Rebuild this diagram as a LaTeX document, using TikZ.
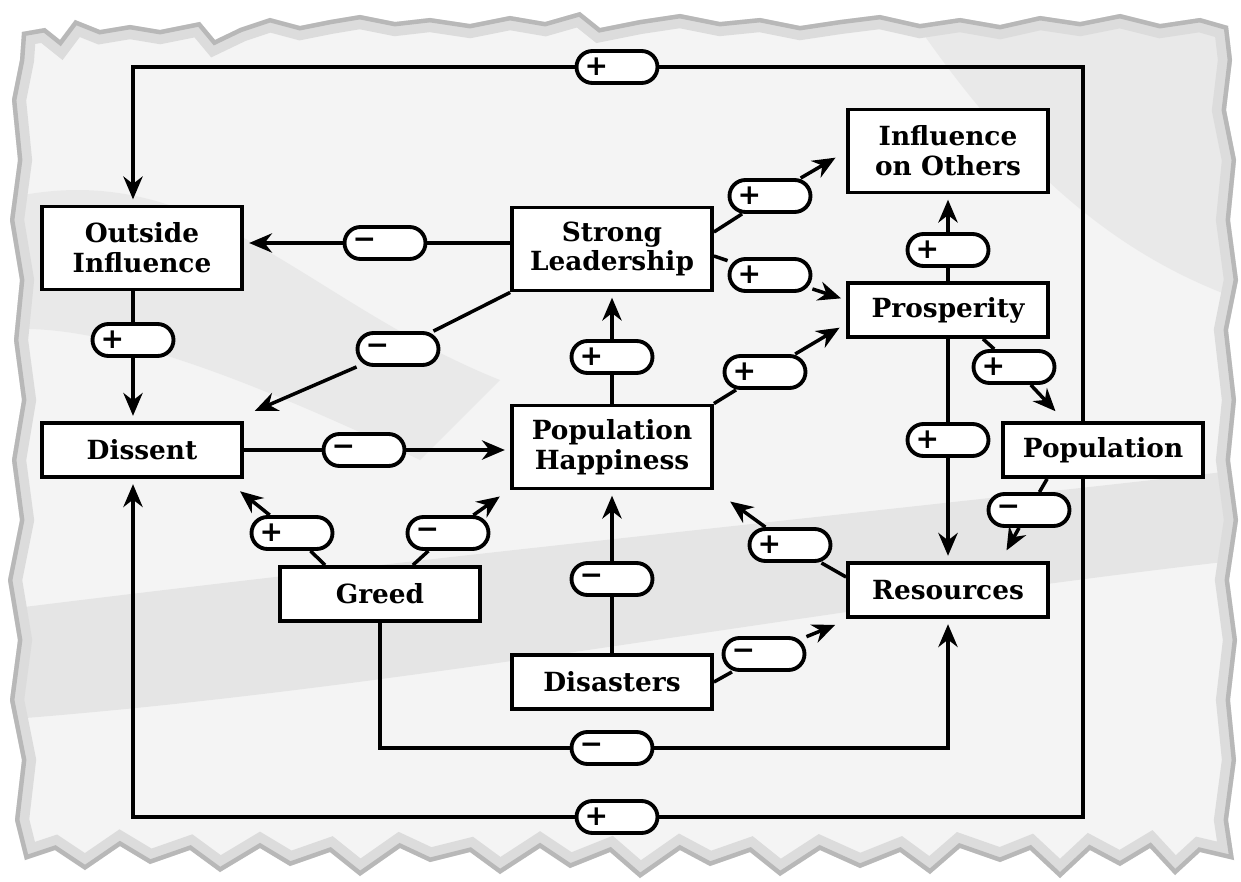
\documentclass[tikz,border=0pt]{standalone}
\usepackage{fontspec}
\setmainfont{DejaVu Serif}
\newfontfamily\signfont{DejaVu Sans}
\usetikzlibrary{arrows.meta, calc}
\definecolor{paper}{gray}{0.955}
\definecolor{paperedge}{gray}{0.72}
\definecolor{crease}{gray}{0.88}
\tikzstyle{factor} = [rectangle, minimum width=4cm, minimum height=1.08cm, align=center, draw=black, line width=2.2pt, fill=white, font=\fontsize{15}{17}\selectfont\bfseries]
\tikzstyle{tall} = [minimum height=1.66cm]
\tikzstyle{polarity} = [rectangle, rounded corners=0.32cm, minimum height=0.64cm, text width=1.3cm, inner xsep=0.16cm, inner ysep=0pt, align=left, draw=black, line width=2.2pt, fill=white, font=\signfont\fontsize{16}{16}\selectfont\bfseries]
\tikzstyle{link} = [line width=2pt, black]
\tikzstyle{arrow} = [link, -{Stealth[length=13pt,width=11pt]}, shorten >=3pt]

\begin{document}
\begin{tikzpicture}[x=0.02cm, y=-0.02cm]
    \useasboundingbox (0,0) rectangle (1241,882);
    \fill[white] (0,0) rectangle (1241,882);

    \path[fill=paper, save path=\paperpath] (22,32) -- (45,28) -- (60,40) -- (75,20) -- (100,30) -- (130,25) -- (160,30) -- (200,22) -- (215,40) -- (240,28) -- (270,18) -- (300,26) -- (330,20) -- (360,15) -- (395,22) -- (430,18) -- (470,24) -- (510,16) -- (545,22) -- (580,12) -- (600,28) -- (640,20) -- (680,14) -- (720,22) -- (760,18) -- (800,26) -- (840,20) -- (880,15) -- (920,24) -- (960,18) -- (1000,25) -- (1040,16) -- (1080,22) -- (1120,14) -- (1160,24) -- (1200,18) -- (1228,26)
        -- (1232,60) -- (1226,110) -- (1236,160) -- (1230,220) -- (1238,280) -- (1228,330) -- (1236,400) -- (1230,460) -- (1238,520) -- (1229,580) -- (1237,640) -- (1230,700) -- (1236,760) -- (1228,820) -- (1234,860)
        -- (1200,852) -- (1175,875) -- (1150,848) -- (1120,866) -- (1090,850) -- (1060,878) -- (1030,850) -- (1000,862) -- (960,848) -- (930,874) -- (900,852) -- (860,868) -- (820,850) -- (780,876) -- (750,852) -- (710,866) -- (680,850) -- (640,878) -- (610,852) -- (570,868) -- (540,848) -- (500,874) -- (470,852) -- (430,862) -- (400,848) -- (360,876) -- (330,852) -- (290,866) -- (260,848) -- (220,872) -- (190,850) -- (150,864) -- (120,846) -- (85,870) -- (55,850) -- (25,860)
        -- (15,820) -- (22,760) -- (10,700) -- (18,640) -- (8,580) -- (20,520) -- (12,460) -- (22,400) -- (14,340) -- (20,280) -- (10,220) -- (18,160) -- (12,100) -- (20,60) -- cycle;
    \begin{scope}
        \clip[use path=\paperpath];
        \fill[crease, opacity=.7] (0,610) .. controls (400,560) and (800,520) .. (1241,470) -- (1241,560) .. controls (800,610) and (400,690) .. (0,720) -- cycle;
        \fill[crease, opacity=.5] (0,200) .. controls (200,150) and (300,300) .. (500,380) -- (420,460) .. controls (250,380) and (100,320) .. (0,330) -- cycle;
        \fill[crease, opacity=.5] (900,0) -- (1241,0) -- (1241,300) .. controls (1100,250) and (1000,150) .. (900,0) -- cycle;
        \draw[use path=\paperpath, paperedge!40!paper, line width=16pt];
        \draw[use path=\paperpath, paperedge, line width=5pt];
    \end{scope}

    \node (oi) [factor, tall] at (142,248) {Outside\\Influence};
    \node (sl) [factor, tall] at (612,249) {Strong\\Leadership};
    \node (ioo) [factor, tall] at (948,151) {Influence\\on Others};
    \node (pros) [factor] at (948,310) {Prosperity};
    \node (pop) [factor] at (1103,450) {Population};
    \node (dis) [factor] at (142,450) {Dissent};
    \node (ph) [factor, tall] at (612,447) {Population\\Happiness};
    \node (greed) [factor] at (380,594) {Greed};
    \node (dst) [factor] at (612,682) {Disasters};
    \node (res) [factor] at (948,590) {Resources};

    \node (plTop) [polarity] at (617,67) {+};
    \node (plBottom) [polarity] at (617,817) {+};
    \node (plGreedRes) [polarity] at (612,748) {−};
    \node (plSlOi) [polarity] at (385,243) {−};
    \node (plOiDis) [polarity] at (133,340) {+};
    \node (plDisPh) [polarity] at (364,450) {−};
    \node (plPhSl) [polarity] at (612,357) {+};
    \node (plProsIoo) [polarity] at (948,250) {+};
    \node (plProsRes) [polarity] at (948,440) {+};
    \node (plDstPh) [polarity] at (612,579) {−};
    \node (plSlIoo) [polarity] at (770,196) {+};
    \node (plSlPros) [polarity] at (770,275) {+};
    \node (plPhPros) [polarity] at (765,372) {+};
    \node (plProsPop) [polarity] at (1014,367) {+};
    \node (plPopRes) [polarity] at (1029,510) {−};
    \node (plResPh) [polarity] at (790,545) {+};
    \node (plGreedDis) [polarity] at (292,533) {+};
    \node (plGreedPh) [polarity] at (448,533) {−};
    \node (plDstRes) [polarity] at (764,654) {−};
    \node (plSlDis) [polarity] at (398,349) {−};

    \coordinate (tl) at (133,67);
    \coordinate (tr) at (1083,67);
    \coordinate (bl) at (133,817);
    \coordinate (br) at (1083,817);
    \coordinate (gl) at (380,748);
    \coordinate (gr) at (948,748);

    \draw [link] (pop.north -| tr) -- (tr) -- (plTop);
    \draw [arrow] (plTop) -- (tl) -- (tl |- oi.north);
    \draw [link] (pop.south -| br) -- (br) -- (plBottom);
    \draw [arrow] (plBottom) -- (bl) -- (bl |- dis.south);
    \draw [link] (greed.south) -- (gl) -- (plGreedRes);
    \draw [arrow] (plGreedRes) -- (gr) -- (res.south);

    \draw [link] ($(sl.west)+(0,-6)$) -- (plSlOi);
    \draw [arrow] (plSlOi) -- (plSlOi -| oi.east);
    \draw [link] (oi.south -| plOiDis) -- (plOiDis);
    \draw [arrow] (plOiDis) -- (plOiDis |- dis.north);
    \draw [link] (dis.east) -- (plDisPh);
    \draw [arrow] (plDisPh) -- (plDisPh -| ph.west);
    \draw [link] (ph.north) -- (plPhSl);
    \draw [arrow] (plPhSl) -- (sl.south);
    \draw [link] (pros.north) -- (plProsIoo);
    \draw [arrow] (plProsIoo) -- (ioo.south);
    \draw [link] (pros.south) -- (plProsRes);
    \draw [arrow] (plProsRes) -- (res.north);
    \draw [link] (dst.north) -- (plDstPh);
    \draw [arrow] (plDstPh) -- (ph.south);

    \draw [link] ($(sl.east)+(0,-17)$) -- (plSlIoo);
    \draw [arrow] (plSlIoo) -- ($(ioo.west)+(-6,4)$);
    \draw [link] ($(sl.east)+(0,7)$) -- (plSlPros);
    \draw [arrow] (plSlPros) -- ($(pros.west)+(0,-10)$);
    \draw [link] (ph.north east) -- (plPhPros);
    \draw [arrow] (plPhPros) -- ($(pros.west)+(-2,15)$);
    \draw [link] ($(pros.south)+(35,0)$) -- (plProsPop);
    \draw [arrow] (plProsPop) -- ($(pop.north west)+(58,-6)$);
    \draw [link] ($(pop.south west)+(46,0)$) -- (plPopRes);
    \draw [arrow] (plPopRes) -- ($(res.north east)+(-46,-6)$);
    \draw [link] ($(res.west)+(0,-13)$) -- (plResPh);
    \draw [arrow] (plResPh) -- ($(ph.south east)+(12,8)$);
    \draw [link] ($(greed.north west)+(47,0)$) -- (plGreedDis);
    \draw [arrow] (plGreedDis) -- ($(dis.south east)+(-8,9)$);
    \draw [link] ($(greed.north east)+(-69,0)$) -- (plGreedPh);
    \draw [arrow] (plGreedPh) -- ($(ph.south west)+(-6,3)$);
    \draw [link] (dst.east) -- (plDstRes);
    \draw [arrow] (plDstRes) -- ($(res.south west)+(-6,4)$);
    \draw [link] (sl.south west) -- (plSlDis);
    \draw [arrow] (plSlDis) -- ($(dis.north east)+(6,-8)$);
\end{tikzpicture}
\end{document}
